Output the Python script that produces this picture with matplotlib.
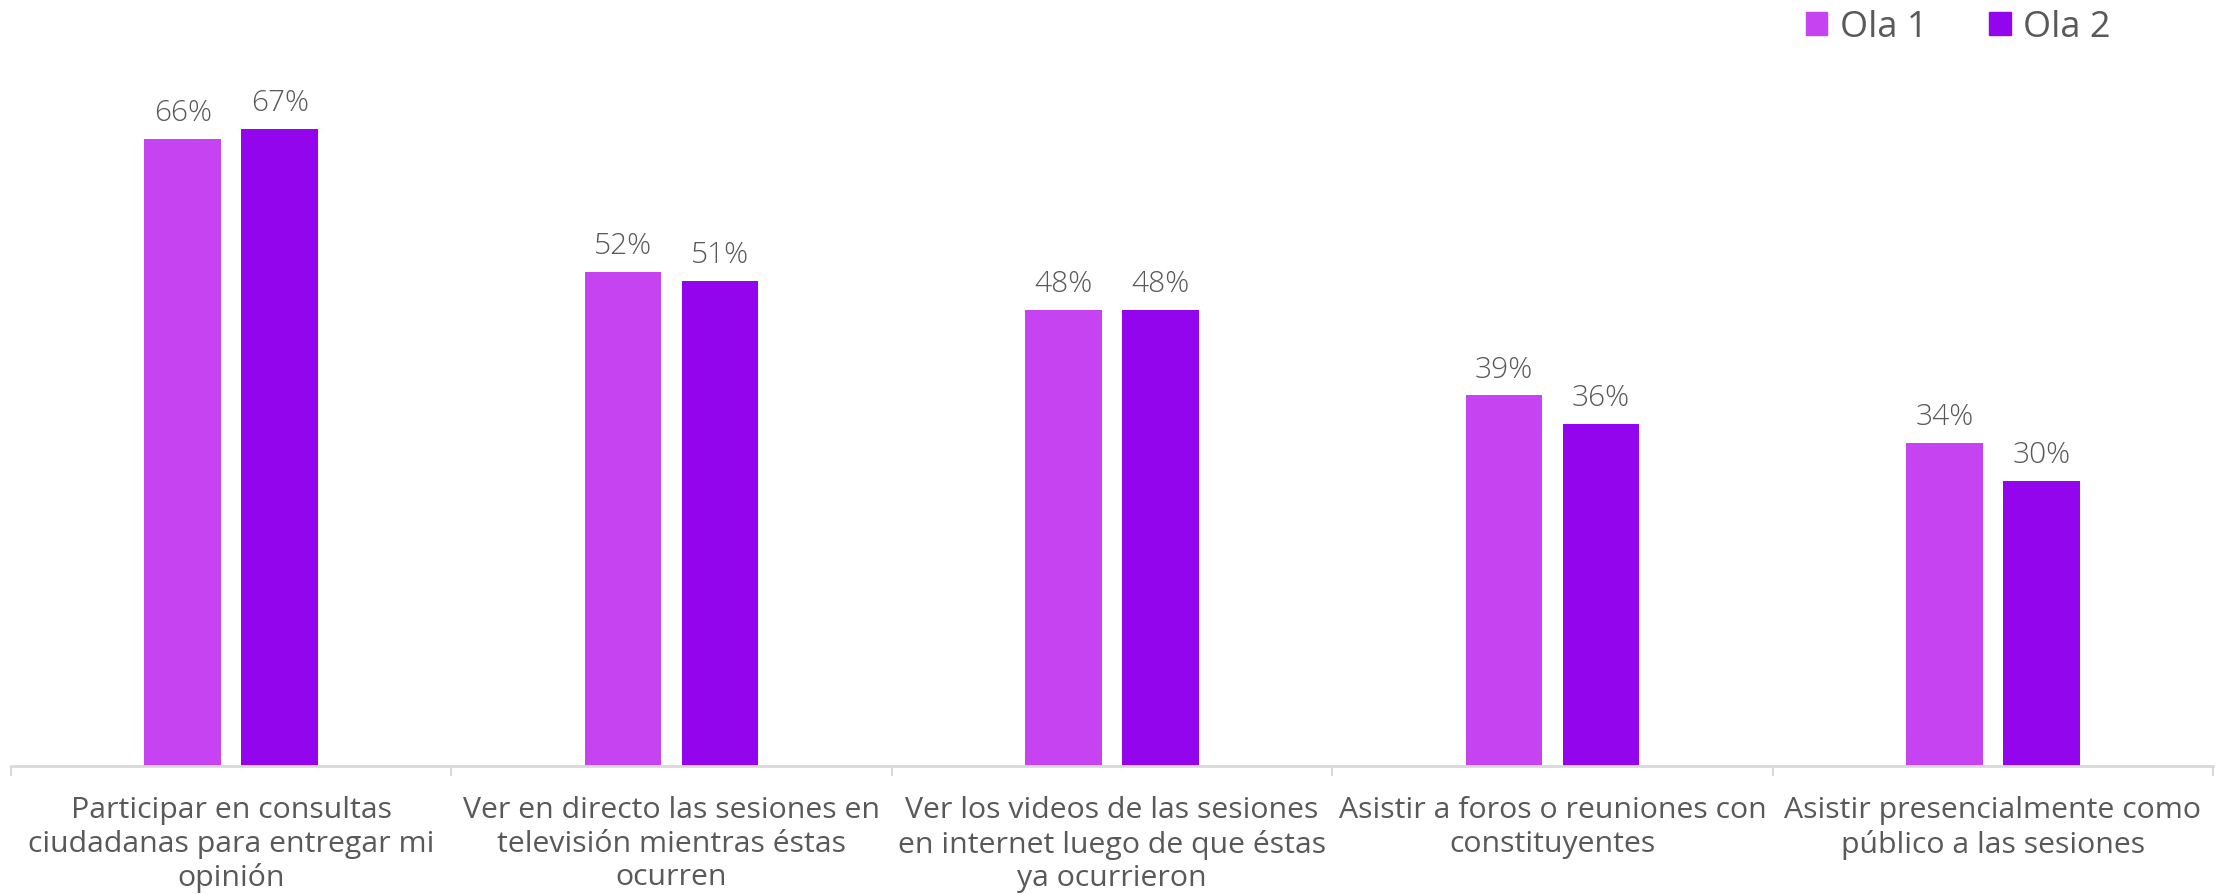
import numpy as np
import matplotlib.pyplot as plt
from matplotlib.patches import Patch


# Data
categories = [
    "Participar en consultas\nciudadanas para entregar mi\nopinión",
    "Ver en directo las sesiones en\ntelevisión mientras éstas\nocurren",
    "Ver los videos de las sesiones\nen internet luego de que éstas\nya ocurrieron",
    "Asistir a foros o reuniones con\nconstituyentes",
    "Asistir presencialmente como\npúblico a las sesiones",
]
ola1 = [66, 52, 48, 39, 34]
ola2 = [67, 51, 48, 36, 30]
series_names = ["Ola 1", "Ola 2"]

color1 = "#C643F1"
color2 = "#9305EC"
text_color = "#595959"
axis_color = "#D9D9D9"

plt.rcParams['font.family'] = ['Open Sans', 'DejaVu Sans']

fig = plt.figure(figsize=(22.28, 8.95), dpi=100)
ax = fig.add_axes([11 / 2228, 1 - 767 / 895, (2213 - 11) / 2228, 767 / 895])

x = np.arange(len(categories))
width = 0.174
off = 0.11
bars1 = ax.bar(x - off, ola1, width, color=color1)
bars2 = ax.bar(x + off, ola2, width, color=color2)

# value labels above each bar
for bars, vals in [(bars1, ola1), (bars2, ola2)]:
    for b, v in zip(bars, vals):
        ax.annotate(f"{v}%", (b.get_x() + b.get_width() / 2, v),
                    xytext=(0, 8.5), textcoords="offset points",
                    ha="center", va="bottom", fontsize=21.5,
                    color=text_color, fontweight="light")

ax.set_xlim(-0.5, len(categories) - 0.5)
ax.set_ylim(0, 80.7)

ax.set_xticks(x)
ax.set_xticklabels(categories, fontsize=21.8, color=text_color, linespacing=1.2)
ax.tick_params(axis="x", which="major", length=0, pad=21)
ax.set_xticks(np.arange(len(categories) + 1) - 0.5, minor=True)
ax.tick_params(axis="x", which="minor", length=7, width=1.5, color=axis_color, direction="out")
ax.set_yticks([])

for s in ["top", "right", "left"]:
    ax.spines[s].set_visible(False)
ax.spines["bottom"].set_color(axis_color)
ax.spines["bottom"].set_linewidth(2)

handles = [Patch(color=color1), Patch(color=color2)]
fig.legend(handles, series_names, loc="upper right", bbox_to_anchor=(0.962, 1.025),
           ncol=2, frameon=False, fontsize=26, labelcolor=text_color,
           handlelength=0.6, handleheight=0.6, handletextpad=0.35, columnspacing=1.7)

fig.savefig("out.png", dpi=100)
